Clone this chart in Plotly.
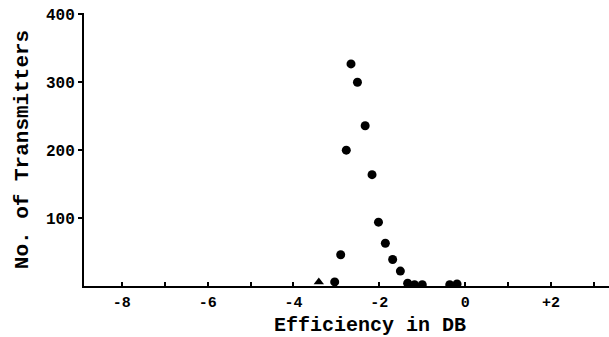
import plotly.graph_objects as go

# Efficiency (dB) and number of transmitters
efficiency_db = [-3.41, -3.04, -2.90, -2.77, -2.66, -2.51, -2.33, -2.17, -2.02,
                 -1.86, -1.69, -1.51, -1.34, -1.18, -1.00, -0.36, -0.19]
transmitters = [6, 6, 46, 200, 327, 300, 236, 164, 94,
                63, 39, 22, 4, 2, 2, 2, 3]
marker_symbols = ["triangle-up"] + ["circle"] * 16

x_tickvals = [-8, -6, -4, -2, 0, 2]
x_ticktext = ["-8", "-6", "-4", "-2", "0", "+2"]
y_tickvals = [100, 200, 300, 400]
y_ticktext = ["100", "200", "300", "400"]
x_title = "Efficiency in DB"
y_title = "No. of Transmitters"

font_family = "Liberation Mono"

fig = go.Figure()
fig.add_trace(go.Scatter(
    x=efficiency_db, y=transmitters, mode="markers",
    marker=dict(color="black", size=9, symbol=marker_symbols, line=dict(width=0)),
    cliponaxis=True, showlegend=False,
))

fig.add_annotation(
    text=x_title, xref="paper", yref="paper",
    x=(370 - 84) / (609 - 84), y=-(325 - 286) / (286 - 13),
    xanchor="center", yanchor="middle", showarrow=False,
    font=dict(family=font_family, size=20, weight="bold", color="black"),
)

fig.update_layout(
    width=609, height=337,
    margin=dict(l=84, r=0, t=13, b=51),
    paper_bgcolor="white", plot_bgcolor="white",
    font=dict(family=font_family, color="black", size=13),
    xaxis=dict(
        range=[-8.88, 3.35],
        tickvals=x_tickvals, ticktext=x_ticktext,
        ticks="inside", ticklen=4, tickwidth=1.5, tickcolor="black",
        minor=dict(dtick=1, tick0=0, ticks="inside", ticklen=4, tickwidth=1.5, tickcolor="black"),
        showline=True, linecolor="black", linewidth=2,
        showgrid=False, zeroline=False,
        ticklabelstandoff=1,
        tickfont=dict(family=font_family, size=15, weight="bold"),
    ),
    yaxis=dict(
        range=[0, 402],
        tickvals=y_tickvals, ticktext=y_ticktext,
        ticks="outside", ticklen=4, tickwidth=1.5, tickcolor="black",
        showline=True, linecolor="black", linewidth=2,
        showgrid=False, zeroline=False,
        tickfont=dict(family=font_family, size=16, weight="bold"),
        title=dict(text=y_title, standoff=12,
                   font=dict(family=font_family, size=21, weight="bold")),
    ),
)

fig.write_html("out.html")
